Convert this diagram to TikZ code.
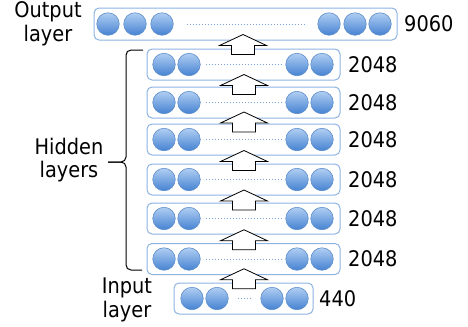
\documentclass[tikz,border=0pt]{standalone}
\usepackage{fontspec}
\setmainfont{DejaVu Sans Condensed}
\usetikzlibrary{calc}
\definecolor{boxline}{HTML}{8DB3E2}
\definecolor{ctop}{HTML}{B0CEF2}
\definecolor{cbot}{HTML}{4582D2}
\definecolor{cline}{HTML}{5F8FCB}
\definecolor{dotc}{HTML}{7BA3D8}
\tikzset{
  layerbox/.style={draw=boxline, line width=1bp, rounded corners=5bp, fill=white, inner sep=0pt},
  neuron/.style={circle, minimum size=22.5bp, inner sep=0pt, draw=cline, line width=0.6bp, top color=ctop, bottom color=cbot},
  dots/.style={draw=dotc, line width=1bp, dash pattern=on 1bp off 2bp},
  blockarrow/.style={draw=black, line width=0.8bp, fill=white, line join=miter},
  lbl/.style={inner sep=0pt, font=\fontsize{21.5bp}{23.5bp}\selectfont, align=center},
  bracel/.style={draw=black, line width=1bp, rounded corners=5bp}
}
\newcommand{\uparr}[1]{%
  \draw[blockarrow] ($(#1)+(0,-10)$) -- ++(23.5,11) -- ++(-12,0) -- ++(0,9) -- ++(-23,0) -- ++(0,-9) -- ++(-12,0) -- cycle;}
\begin{document}
\begin{tikzpicture}[x=1bp, y=-1bp]
\useasboundingbox (0,0) rectangle (468,326);
% boxes
\node[layerbox, minimum width=303bp, minimum height=32bp] (out) at (245.5,24) {};
\foreach \n/\y in {1/64.5,2/102.5,3/139.5,4/179.5,5/218.5,6/259}{
  \node[layerbox, minimum width=193bp, minimum height=31bp] (h\n) at (243.5,\y) {};
}
\node[layerbox, minimum width=139bp, minimum height=31bp] (in) at (243.5,298.5) {};
% neurons output
\foreach \i/\x in {1/108,2/135,3/162,4/329,5/355,6/380}{
  \node[neuron] (o\i) at (\x,24) {};
}
\draw[dots] ($(o3.east)+(13bp,0)$) coordinate (od1) -- ($(o4.west)+(-13bp,0)$) coordinate (od2);
% hidden neurons
\foreach \n/\y in {1/64.5,2/102.5,3/139.5,4/179.5,5/218.5,6/259}{
  \foreach \i/\x in {1/164,2/189,3/297,4/322}{
    \node[neuron] (h\n c\i) at (\x,\y) {};
  }
  \draw[dots] ($(h\n c2.east)+(5bp,0)$) coordinate (hd\n a) -- ($(h\n c3.west)+(-3bp,0)$) coordinate (hd\n b);
  \node[lbl, anchor=west] (l\n) at (348,\y) {2048};
}
% input neurons
\foreach \i/\x in {1/192,2/217,3/272,4/297}{
  \node[neuron] (i\i) at (\x,298.5) {};
}
\draw[dots] ($(i2.east)+(9bp,0)$) coordinate (id1) -- ($(i3.west)+(-8bp,0)$) coordinate (id2);
% numbers
\node[lbl, anchor=west] (lout) at (404,24) {9060};
\node[lbl, anchor=west] (lin) at (319,298.5) {440};
% arrows
\coordinate (a0) at ($($(out.south)!0.5!(h1.north)$)+(-1.5,0)$);
\coordinate (a1) at ($($(h1.south)!0.5!(h2.north)$)+(0.5,1)$);
\coordinate (a2) at ($($(h2.south)!0.5!(h3.north)$)+(0.5,1)$);
\coordinate (a3) at ($($(h3.south)!0.5!(h4.north)$)+(0.5,1)$);
\coordinate (a4) at ($($(h4.south)!0.5!(h5.north)$)+(0.5,1)$);
\coordinate (a5) at ($($(h5.south)!0.5!(h6.north)$)+(0.5,1)$);
\coordinate (a6) at ($($(h6.south)!0.5!(in.north)$)+(0.5,0)$);
\foreach \a in {a0,a1,a2,a3,a4,a5,a6}{\uparr{\a}}
% brace
\coordinate (btop) at (143,50);
\coordinate (bmid) at (108,162);
\coordinate (bbot) at (142,270);
\draw[bracel] (btop) -- (126,50) -- (126,162) -- (bmid);
\draw[bracel] (bmid) -- (126,162) -- (126,270) -- (bbot);
% side labels
\node[lbl] (tout) at (48,24) {Output\\layer};
\node[lbl] (thid) at (69,160) {Hidden\\layers};
\node[lbl] (tin) at (127,300) {Input\\layer};
\end{tikzpicture}
\end{document}
